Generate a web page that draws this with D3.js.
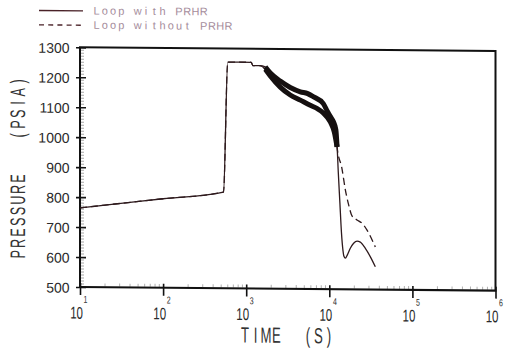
<!DOCTYPE html>
<html>
<head>
<meta charset="utf-8">
<script src="https://cdn.jsdelivr.net/npm/d3@7"></script>
<style>
  html, body { margin: 0; padding: 0; background: #fff; }
  svg { display: block; }
  text { white-space: pre; }
</style>
</head>
<body>
<script>
// ---- data ----
const timeWith = [10, 20, 100, 533, 600, 1150, 1200, 1450, 1700, 1950, 2570, 3390, 4480, 5900, 7170, 8470, 10300, 11500, 12400, 12830, 13400, 14000, 14600, 15000, 15600, 16500, 17900, 19630, 21580, 23620, 27150, 31220, 35810];
const pressWith = [764, 774, 797, 821, 1255, 1255, 1244, 1244, 1232, 1210, 1173, 1147, 1130, 1113, 1102, 1088, 1058, 1024, 975, 890, 790, 690, 630, 610, 604, 615, 637, 654, 661, 658, 637, 609, 576];

const timeWithout = [10, 20, 100, 533, 600, 1150, 1200, 1450, 1700, 1950, 2570, 3390, 4480, 5500, 6400, 8470, 9460, 10300, 11170, 12000, 12400, 14200, 15600, 17100, 18760, 21540, 24760, 28450, 35810];
const pressWithout = [764, 774, 797, 821, 1255, 1255, 1244, 1244, 1240, 1220, 1193, 1172, 1158, 1152, 1142, 1119, 1094, 1076, 1060, 1032, 975, 903, 832, 782, 745, 732, 721, 698, 642];

const seriesNames = ["Loop with PRHR", "Loop without PRHR"];
const yTickValues = [500, 600, 700, 800, 900, 1000, 1100, 1200, 1300];
const xTickExponents = [1, 2, 3, 4, 5, 6];
const xTitle = "TIME  (S)";
const yTitle = "PRESSURE   (PSIA)";
// band (noisy, oscillating) section of each curve
const bandRange = [1700, 12400];

// ---- layout ----
const W = 517, H = 358;
const lineColor = "#2e1a1d";
const svg = d3.select("body").append("svg").attr("width", W).attr("height", H);
const g = svg.append("g").attr("transform", "skewY(0.5)");

const x = d3.scaleLog().domain([10, 1e6]).range([80, 495.5]);
const y = d3.scaleLinear().domain([500, 1300]).range([286.3, 46.6]);

// minor y ticks
g.append("g").selectAll("line")
  .data(d3.range(510, 1300, 10).filter(v => v % 100 !== 0))
  .join("line")
  .attr("x1", 81).attr("x2", 84)
  .attr("y1", d => y(d)).attr("y2", d => y(d))
  .attr("stroke", "#a8a8a8").attr("stroke-width", 1);

// minor x ticks
const minorX = [];
for (let e = 1; e < 6; e++) for (let k = 2; k <= 9; k++) minorX.push(k * Math.pow(10, e));
g.append("g").selectAll("line")
  .data(minorX)
  .join("line")
  .attr("x1", d => x(d)).attr("x2", d => x(d))
  .attr("y1", 282.5).attr("y2", 285.5)
  .attr("stroke", "#b0b0b0").attr("stroke-width", 1);

// frame
g.append("rect")
  .attr("x", x.range()[0]).attr("y", y.range()[1])
  .attr("width", x.range()[1] - x.range()[0])
  .attr("height", y.range()[0] - y.range()[1])
  .attr("fill", "none").attr("stroke", "#111").attr("stroke-width", 2);

// left axis
const yAxis = g.append("g").attr("transform", `translate(${x.range()[0]},0)`)
  .call(d3.axisLeft(y).tickValues(yTickValues).tickSize(4).tickPadding(6.5).tickFormat(d3.format("d")));
yAxis.select(".domain").remove();
yAxis.selectAll(".tick line").attr("x1", 6).attr("stroke", "#111").attr("stroke-width", 1.6);
yAxis.selectAll(".tick text")
  .attr("font-family", "'Liberation Sans', Arial, sans-serif")
  .attr("font-size", 14).attr("fill", "#2a2a2a").attr("dy", null).attr("y", 5.2);

// bottom axis
const xTickVals = xTickExponents.map(e => Math.pow(10, e));
const xAxis = g.append("g").attr("transform", `translate(0,${y.range()[0]})`)
  .call(d3.axisBottom(x).tickValues(xTickVals).tickSize(8).tickFormat(""));
xAxis.select(".domain").remove();
xAxis.selectAll(".tick line").attr("y1", -4).attr("stroke", "#111").attr("stroke-width", 1.6);

const xl = g.append("g").attr("font-family", "'Liberation Sans', Arial, sans-serif").attr("fill", "#2a2a2a");
xTickExponents.forEach(e => {
  const px = x(Math.pow(10, e));
  xl.append("text").attr("transform", `translate(${px + 3},318) scale(0.68,1)`)
    .attr("text-anchor", "end").attr("font-size", 17).text("10");
  xl.append("text").attr("transform", `translate(${px + 3.6},302) scale(0.7,1)`)
    .attr("text-anchor", "start").attr("font-size", 10).text(String(e));
});

// spaced-character text helper (each character centred in its own slot)
function spacedText(sel, str, pitch, sx) {
  sel.attr("text-anchor", "middle")
    .attr("x", d3.range(str.length).map(i => (i * pitch / sx).toFixed(2)).join(" "))
    .text(str);
}

// axis titles
spacedText(
  g.append("text").attr("transform", "translate(245,340.5) scale(0.6,1)")
    .attr("font-family", "'Liberation Sans', Arial, sans-serif").attr("font-size", 22).attr("fill", "#333"),
  xTitle, 10.5, 0.6);
spacedText(
  g.append("text").attr("transform", "translate(24.5,254) rotate(-90) scale(0.6,1)")
    .attr("font-family", "'Liberation Sans', Arial, sans-serif").attr("font-size", 21).attr("fill", "#333"),
  yTitle, 10.8, 0.6);

// curves
const withData = timeWith.map((t, i) => ({ t, p: pressWith[i] }));
const withoutData = timeWithout.map((t, i) => ({ t, p: pressWithout[i] }));
const line = d3.line().x(d => x(d.t)).y(d => y(d.p)).curve(d3.curveMonotoneX);
const inBand = d => d.t >= bandRange[0] && d.t <= bandRange[1];

g.append("path").datum(withData).attr("d", line)
  .attr("fill", "none").attr("stroke", lineColor).attr("stroke-width", 1.3);
g.append("path").datum(withoutData).attr("d", line)
  .attr("fill", "none").attr("stroke", lineColor).attr("stroke-width", 1.3)
  .attr("stroke-dasharray", "7,4");
g.append("path").datum(withoutData.filter(inBand)).attr("d", line)
  .attr("fill", "none").attr("stroke", "#151010").attr("stroke-width", 5).attr("stroke-linecap", "butt");
g.append("path").datum(withData.filter(inBand)).attr("d", line)
  .attr("fill", "none").attr("stroke", "#151010").attr("stroke-width", 5).attr("stroke-linecap", "butt");

// legend
const legend = g.append("g");
const legY = [10.2, 24.5];
const legTextY = [13.6, 27.9];
seriesNames.forEach((name, i) => {
  legend.append("line").attr("x1", 39).attr("x2", 83).attr("y1", legY[i]).attr("y2", legY[i])
    .attr("stroke", "#4a2228").attr("stroke-width", 1.4)
    .attr("stroke-dasharray", i === 1 ? "5,4.2" : null);
  spacedText(
    legend.append("text").attr("transform", `translate(96.5,${legTextY[i]})`)
      .attr("font-family", "'Liberation Sans', Arial, sans-serif").attr("font-size", 11).attr("fill", "#a58c9b"),
    name, 8.25, 1);
});
</script>
</body>
</html>
